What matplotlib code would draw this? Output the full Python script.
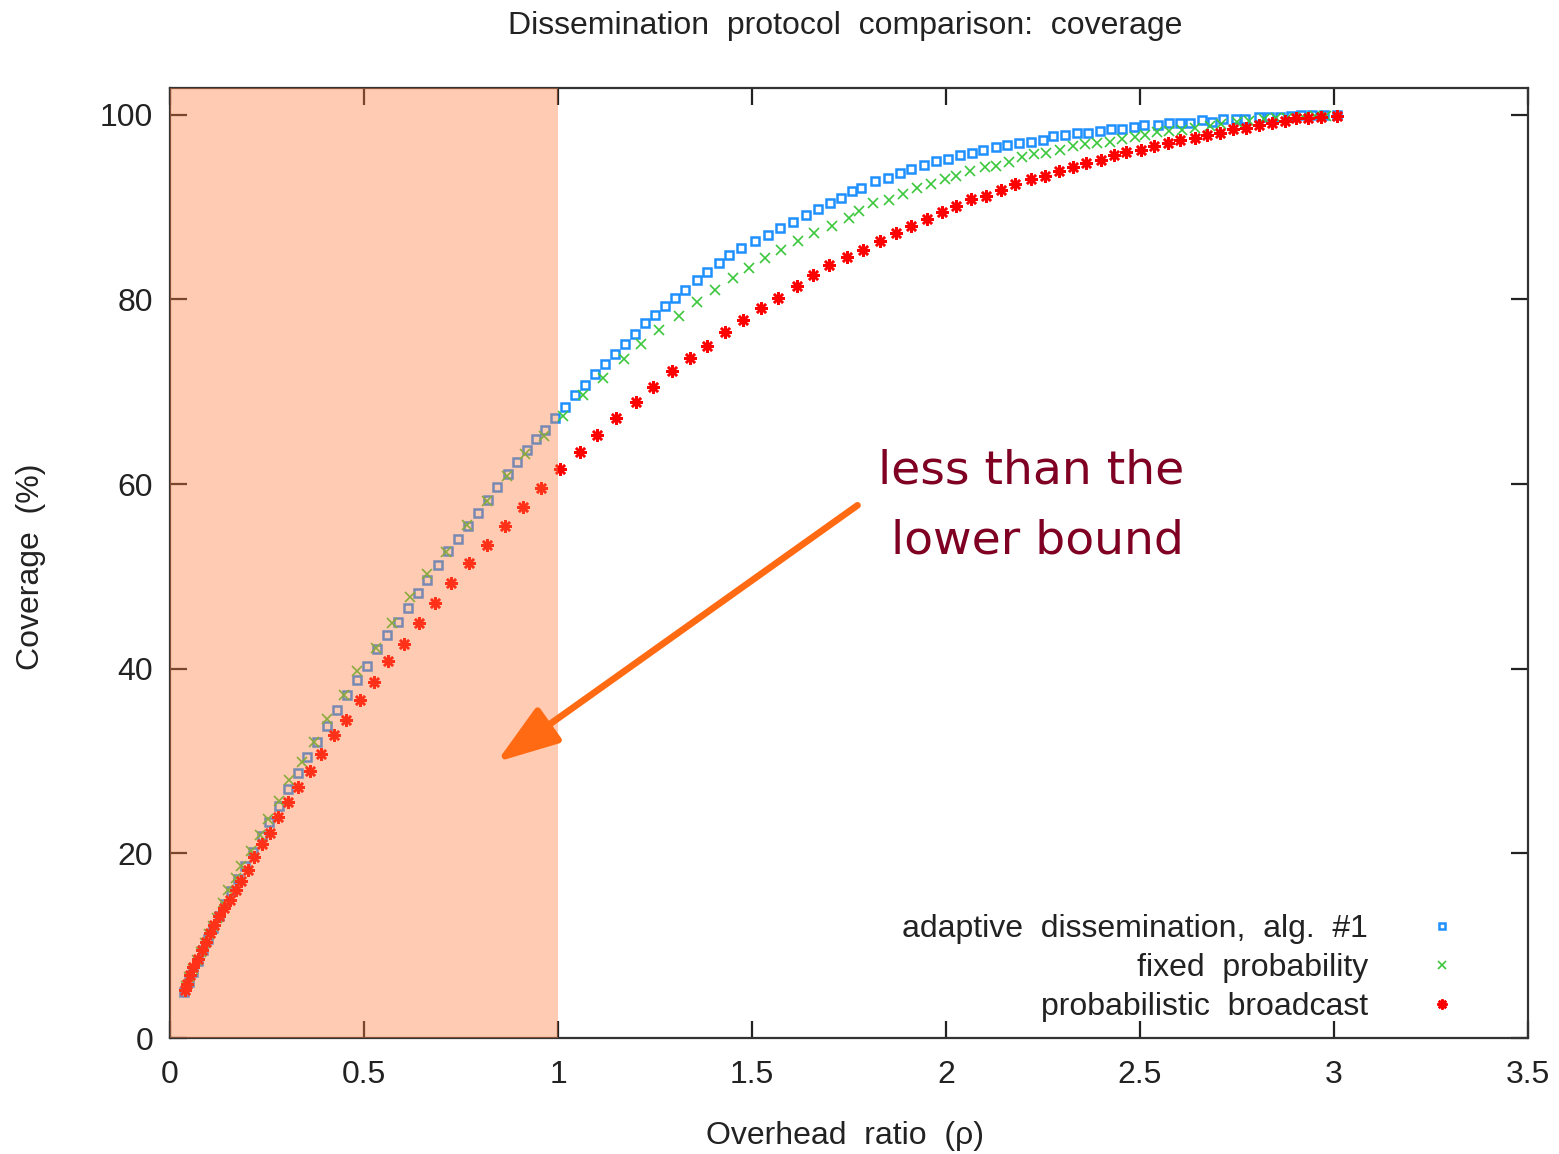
import matplotlib
matplotlib.use("Agg")
import matplotlib.pyplot as plt

# ---------------- data ----------------
adaptive_x = [0.036, 0.048, 0.060, 0.072, 0.085, 0.098, 0.112, 0.127, 0.142, 0.158,
              0.175, 0.193, 0.213, 0.236, 0.256, 0.281, 0.303, 0.329, 0.354, 0.380,
              0.405, 0.431, 0.457, 0.483, 0.508, 0.534, 0.560, 0.588, 0.613, 0.639,
              0.663, 0.691, 0.717, 0.742, 0.768, 0.793, 0.819, 0.844, 0.870, 0.895,
              0.920, 0.944, 0.966, 0.993, 1.018, 1.044, 1.070, 1.096, 1.121, 1.147,
              1.173, 1.199, 1.225, 1.251, 1.277, 1.302, 1.327, 1.357, 1.384, 1.416,
              1.441, 1.471, 1.508, 1.541, 1.572, 1.606, 1.639, 1.670, 1.700, 1.730,
              1.759, 1.782, 1.817, 1.850, 1.881, 1.911, 1.943, 1.974, 2.004, 2.036,
              2.066, 2.096, 2.128, 2.158, 2.189, 2.218, 2.250, 2.276, 2.306, 2.338,
              2.366, 2.396, 2.424, 2.454, 2.484, 2.511, 2.546, 2.574, 2.604, 2.630,
              2.661, 2.685, 2.715, 2.747, 2.771, 2.806, 2.832, 2.862, 2.888, 2.914,
              2.943, 2.973, 3.007]
adaptive_y = [5.0, 6.1, 7.2, 8.3, 9.5, 10.7, 11.9, 13.2, 14.5, 15.9,
              17.2, 18.6, 20.2, 21.9, 23.4, 25.1, 27.0, 28.7, 30.4, 32.1,
              33.8, 35.5, 37.1, 38.8, 40.3, 42.1, 43.6, 45.1, 46.6, 48.2,
              49.6, 51.2, 52.7, 54.1, 55.5, 56.9, 58.3, 59.7, 61.1, 62.4,
              63.7, 64.9, 65.9, 67.2, 68.3, 69.6, 70.7, 71.9, 73.0, 74.1,
              75.2, 76.3, 77.4, 78.3, 79.3, 80.2, 81.0, 82.1, 83.0, 83.9,
              84.8, 85.6, 86.3, 87.0, 87.7, 88.4, 89.1, 89.8, 90.4, 91.0,
              91.7, 92.1, 92.8, 93.2, 93.7, 94.1, 94.6, 95.0, 95.2, 95.6,
              95.9, 96.2, 96.5, 96.7, 96.9, 97.1, 97.3, 97.7, 97.8, 98.0,
              98.0, 98.2, 98.5, 98.5, 98.7, 98.9, 98.9, 99.1, 99.1, 99.1,
              99.4, 99.2, 99.5, 99.5, 99.5, 99.8, 99.8, 99.8, 99.9, 100.0,
              100.0, 100.0, 100.0]

fixed_x = [0.040, 0.050, 0.060, 0.070, 0.080, 0.090, 0.100, 0.110, 0.120, 0.137,
           0.150, 0.170, 0.184, 0.208, 0.232, 0.253, 0.281, 0.307, 0.339, 0.372,
           0.405, 0.449, 0.482, 0.530, 0.573, 0.618, 0.663, 0.712, 0.765, 0.817,
           0.869, 0.915, 0.963, 1.012, 1.064, 1.115, 1.169, 1.215, 1.261, 1.313,
           1.359, 1.405, 1.450, 1.491, 1.534, 1.576, 1.618, 1.660, 1.705, 1.750,
           1.776, 1.812, 1.853, 1.889, 1.926, 1.961, 1.997, 2.026, 2.063, 2.100,
           2.130, 2.162, 2.197, 2.228, 2.259, 2.295, 2.327, 2.358, 2.390, 2.422,
           2.454, 2.486, 2.512, 2.544, 2.575, 2.609, 2.643, 2.680, 2.710, 2.750,
           2.780, 2.820, 2.850, 2.880, 2.920, 2.950, 2.980]
fixed_y = [5.6, 6.6, 7.5, 8.4, 9.3, 10.3, 11.3, 12.1, 13.0, 14.6,
           16.0, 17.3, 18.6, 20.3, 22.0, 23.7, 25.7, 27.9, 29.9, 32.1,
           34.6, 37.1, 39.8, 42.2, 45.0, 47.8, 50.3, 52.6, 55.6, 58.2,
           60.9, 63.3, 65.2, 67.4, 69.6, 71.5, 73.5, 75.2, 76.7, 78.2,
           79.7, 81.0, 82.3, 83.4, 84.5, 85.4, 86.3, 87.2, 88.0, 88.8,
           89.6, 90.4, 90.8, 91.4, 92.1, 92.5, 93.0, 93.4, 93.9, 94.3,
           94.5, 94.9, 95.4, 95.7, 95.9, 96.2, 96.6, 96.8, 96.9, 97.1,
           97.4, 97.6, 97.8, 98.1, 98.2, 98.4, 98.6, 98.8, 99.0, 99.2,
           99.3, 99.5, 99.6, 99.7, 99.8, 99.9, 99.9]

prob_x = [0.039, 0.043, 0.052, 0.060, 0.071, 0.082, 0.093, 0.103, 0.114, 0.127,
          0.140, 0.155, 0.170, 0.183, 0.200, 0.217, 0.238, 0.257, 0.279, 0.303,
          0.330, 0.360, 0.390, 0.422, 0.453, 0.489, 0.525, 0.561, 0.602, 0.643,
          0.684, 0.725, 0.771, 0.817, 0.863, 0.910, 0.957, 1.005, 1.057, 1.101,
          1.149, 1.200, 1.246, 1.294, 1.339, 1.385, 1.430, 1.477, 1.523, 1.568,
          1.615, 1.657, 1.699, 1.745, 1.785, 1.830, 1.871, 1.911, 1.952, 1.990,
          2.026, 2.064, 2.104, 2.142, 2.177, 2.218, 2.255, 2.291, 2.327, 2.362,
          2.400, 2.434, 2.465, 2.502, 2.537, 2.572, 2.604, 2.641, 2.673, 2.707,
          2.740, 2.774, 2.806, 2.840, 2.873, 2.903, 2.934, 2.967, 3.007]
prob_y = [5.2, 5.9, 6.8, 7.7, 8.6, 9.5, 10.4, 11.4, 12.2, 13.2,
          14.1, 15.0, 16.0, 17.0, 18.2, 19.6, 21.0, 22.2, 23.9, 25.6,
          27.2, 28.9, 30.8, 32.8, 34.4, 36.6, 38.6, 40.8, 42.7, 44.9,
          47.1, 49.3, 51.4, 53.4, 55.5, 57.5, 59.6, 61.6, 63.5, 65.3,
          67.2, 68.9, 70.5, 72.2, 73.7, 75.0, 76.5, 77.8, 79.1, 80.2,
          81.5, 82.6, 83.7, 84.6, 85.4, 86.3, 87.2, 88.0, 88.7, 89.5,
          90.1, 90.9, 91.2, 91.9, 92.5, 93.0, 93.4, 93.9, 94.3, 94.8,
          95.1, 95.6, 96.0, 96.2, 96.6, 96.9, 97.3, 97.5, 97.8, 98.0,
          98.5, 98.6, 98.9, 99.1, 99.3, 99.6, 99.7, 99.8, 99.9]

series_labels = ["adaptive  dissemination,  alg.  #1",
                 "fixed  probability",
                 "probabilistic  broadcast"]
x_ticks = [0, 0.5, 1, 1.5, 2, 2.5, 3, 3.5]
x_tick_labels = ["0", "0.5", "1", "1.5", "2", "2.5", "3", "3.5"]
y_ticks = [0, 20, 40, 60, 80, 100]
shade_span = (0, 1)
arrow_tail = (1.772, 57.7)
arrow_head = (0.842, 29.9)
note_lines = ["less than the", "lower bound"]

# ---------------- figure ----------------
plt.rcParams['font.family'] = ['Liberation Sans', 'DejaVu Sans']
FS = 23
fig = plt.figure(figsize=(15.59, 11.54), dpi=100)
ax = fig.add_axes([170 / 1559, 1 - 1038 / 1154, 1358 / 1559, 950 / 1154])

ax.plot(adaptive_x, adaptive_y, linestyle='none', marker='s', ms=5.8,
        mfc='none', mec='#1E90FF', mew=1.8, label=series_labels[0], zorder=2)
ax.plot(fixed_x, fixed_y, linestyle='none', marker='x', ms=7.2,
        mec='#3CC83C', mew=1.2, label=series_labels[1], zorder=2)
ax.plot(prob_x, prob_y, linestyle='none', marker=(8, 2, 0), ms=9,
        mec='#FF0000', mfc='#FF0000', mew=1.8, label=series_labels[2], zorder=2)

ax.axvspan(shade_span[0], shade_span[1], color='#FF7F3F', alpha=0.4, lw=0, zorder=3)

ax.set_xlim(0, 3.5)
ax.set_ylim(0, 102.9)
ax.set_xticks(x_ticks)
ax.set_xticklabels(x_tick_labels)
ax.set_yticks(y_ticks)
ax.tick_params(direction='in', length=12, width=1.6, top=True, right=True,
               labelsize=FS, colors='#222222')
ax.tick_params(axis='x', pad=16)
ax.tick_params(axis='y', pad=12)
for s in ax.spines.values():
    s.set_linewidth(1.6)
    s.set_color('#333333')

ax.set_xlabel("Overhead  ratio  (ρ)", fontsize=FS, color='#222222')
ax.set_ylabel("Coverage  (%)", fontsize=FS, color='#222222')
ax.xaxis.set_label_coords(0.497, -0.087)
ax.yaxis.set_label_coords(-0.091, 0.496)
fig.text(845 / 1559, 1 - 26 / 1154, "Dissemination  protocol  comparison:  coverage",
         ha='center', va='center', fontsize=FS, color='#222222')

leg = ax.legend(loc='lower right', bbox_to_anchor=(0.960, 0.017), frameon=False,
                markerfirst=False, fontsize=FS, handlelength=2.0, handletextpad=1.3,
                labelspacing=0.28, borderpad=0, borderaxespad=0, markerscale=0.8)
for t in leg.get_texts():
    t.set_color('#222222')

ax.annotate('', xy=arrow_head, xytext=arrow_tail,
            arrowprops=dict(arrowstyle='-|>,head_length=1.9,head_width=0.65',
                            color='#FF6A13', lw=4.8, shrinkA=0, shrinkB=0,
                            mutation_scale=20),
            zorder=5)
ax.text(2.614, 60.1, note_lines[0], ha='right', va='baseline', fontsize=34,
        color='#7F0022', family='DejaVu Sans', zorder=6)
ax.text(2.614, 52.5, note_lines[1], ha='right', va='baseline', fontsize=34,
        color='#7F0022', family='DejaVu Sans', zorder=6)

fig.savefig('out.png', dpi=100)
